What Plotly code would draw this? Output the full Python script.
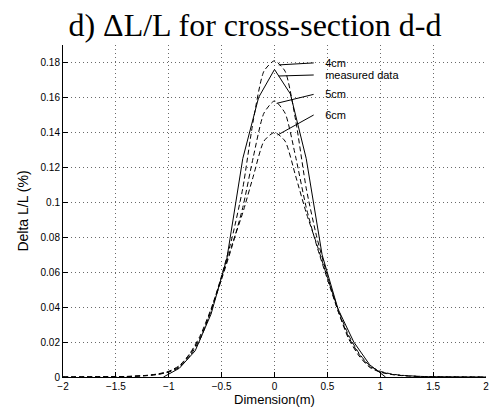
import numpy as np
import plotly.graph_objects as go

# measured data
x_meas = [-1.05, -0.9, -0.75, -0.6, -0.45, -0.3, -0.15, 0.0, 0.15, 0.3, 0.45, 0.6, 0.75, 0.9, 1.05]
y_meas = [0.0, 0.005, 0.015, 0.036, 0.068, 0.125, 0.160, 0.176, 0.162, 0.125, 0.070, 0.039, 0.020, 0.007, 0.0]

# simulated curves
x_sim = [-2.0, -1.4, -1.2, -1.1, -1.0, -0.9, -0.8, -0.7, -0.6, -0.5, -0.4, -0.3, -0.2, -0.1, 0.0,
         0.1, 0.2, 0.3, 0.4, 0.5, 0.6, 0.7, 0.8, 0.9, 1.0, 1.1, 1.2, 1.4, 2.0]
y_4cm = [0.0, 0.0002, 0.0008, 0.0015, 0.0028, 0.0055, 0.012, 0.022, 0.038, 0.058, 0.080, 0.108, 0.147, 0.175, 0.181,
         0.175, 0.147, 0.108, 0.080, 0.058, 0.038, 0.022, 0.012, 0.0055, 0.0028, 0.0015, 0.0008, 0.0002, 0.0]
y_5cm = [0.0, 0.0003, 0.0009, 0.0016, 0.003, 0.006, 0.013, 0.023, 0.038, 0.056, 0.075, 0.097, 0.126, 0.151, 0.158,
         0.151, 0.126, 0.097, 0.075, 0.056, 0.038, 0.023, 0.013, 0.006, 0.003, 0.0016, 0.0009, 0.0003, 0.0]
y_6cm = [0.0, 0.0003, 0.001, 0.0018, 0.0033, 0.0065, 0.0135, 0.024, 0.039, 0.057, 0.076, 0.094, 0.115, 0.135, 0.140,
         0.135, 0.115, 0.094, 0.076, 0.057, 0.039, 0.024, 0.0135, 0.0065, 0.0033, 0.0018, 0.001, 0.0003, 0.0]

x_ticks = [-2, -1.5, -1, -0.5, 0, 0.5, 1, 1.5, 2]
x_ticktext = ["\u22122", "\u22121.5", "\u22121", "\u22120.5", "0", "0.5", "1", "1.5", "2"]
y_ticks = [0, 0.02, 0.04, 0.06, 0.08, 0.1, 0.12, 0.14, 0.16, 0.18]
y_ticktext = ["0", "0.02", "0.04", "0.06", "0.08", "0.1", "0.12", "0.14", "0.16", "0.18"]

dash = "5px,3px"
fig = go.Figure()
for ys in (y_4cm, y_5cm, y_6cm):
    fig.add_trace(go.Scatter(x=x_sim, y=ys, mode="lines",
                             line=dict(color="black", width=1, dash=dash, shape="spline", smoothing=0.6)))
fig.add_trace(go.Scatter(x=x_meas, y=y_meas, mode="lines", line=dict(color="black", width=1)))

font_ann = dict(family="Liberation Sans, Arial", size=11, color="black")
pad = "\u00a0\u00a0\u00a0"
labels = [("4cm", x_sim, y_4cm, 0.04, 35, -2),
          ("measured data", x_meas, y_meas, 0.04, 35, -1),
          ("5cm", x_sim, y_5cm, 0.02, 37, -9),
          ("6cm", x_sim, y_6cm, 0.03, 36, -20)]
for txt, xs, ys, xh, ax, ay in labels:
    fig.add_annotation(x=xh, y=float(np.interp(xh, xs, ys)), text=pad + txt, showarrow=True,
                       arrowhead=0, arrowwidth=1, arrowcolor="black", ax=ax, ay=ay,
                       xanchor="left", yanchor="middle", borderpad=1, font=font_ann)

axis_common = dict(showline=True, linecolor="black", linewidth=1, ticks="inside", ticklen=5,
                   tickcolor="black", showgrid=True, gridcolor="#6a6a6a", griddash="1px,3px", gridwidth=1,
                   zeroline=False, mirror=False,
                   tickfont=dict(family="Liberation Sans, Arial", size=10, color="black"))
fig.update_xaxes(range=[-2, 2], tickvals=x_ticks, ticktext=x_ticktext,
                 title=dict(text="Dimension(m)", font=dict(family="Liberation Sans, Arial", size=13, color="black"), standoff=3),
                 **axis_common)
fig.update_yaxes(range=[0, 0.19], tickvals=y_ticks, ticktext=y_ticktext,
                 title=dict(text="Delta L/L (%)", font=dict(family="Liberation Sans, Arial", size=14, color="black"), standoff=8),
                 **axis_common)
fig.update_layout(
    width=498, height=413,
    margin=dict(l=63, r=9, t=45, b=31),
    plot_bgcolor="white", paper_bgcolor="white",
    showlegend=False,
    title=dict(text="d) \u0394L/L for cross-section d-d", x=0.512, xref="container", xanchor="center",
               y=1 - 25 / 413, yref="container", yanchor="middle",
               font=dict(family="Liberation Serif, Times New Roman", size=32, color="black")),
)
fig.write_html("out.html")
